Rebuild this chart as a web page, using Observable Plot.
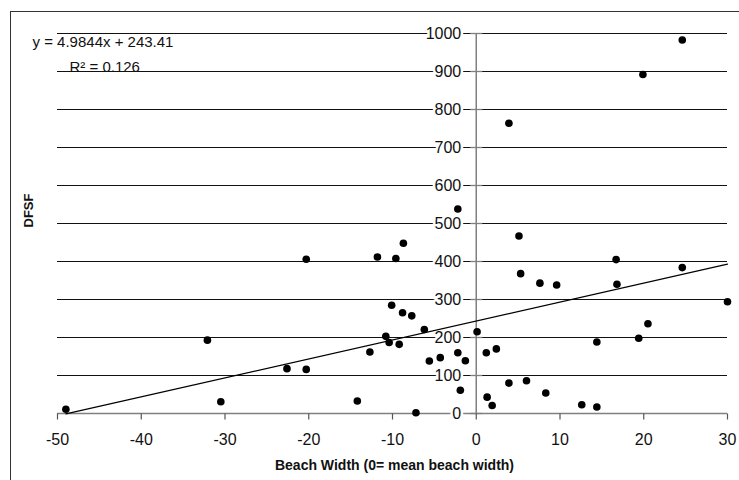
<!DOCTYPE html>
<html>
<head>
<meta charset="utf-8">
<script src="https://cdn.jsdelivr.net/npm/d3@7"></script>
<script src="https://cdn.jsdelivr.net/npm/@observablehq/plot@0.6"></script>
<style>
  html, body { margin: 0; padding: 0; background: #fff; overflow: hidden; }
  #wrap { position: relative; width: 739px; height: 480px; overflow: hidden; }
  #border { position: absolute; left: 10px; top: 11px; width: 800px; height: 600px; border: 1.6px solid #333; box-sizing: border-box; pointer-events: none; }
</style>
</head>
<body>
<div id="wrap"><div id="chart"></div><div id="border"></div></div>
<script>
const beachWidth = [-49.0, -32.1, -30.5, -22.6, -20.3, -20.3, -14.2, -12.7, -11.8, -10.8,
  -10.4, -10.1, -9.6, -9.2, -8.8, -8.7, -7.7, -7.2, -6.2, -5.6,
  -4.3, -2.2, -2.2, -1.9, -1.3, 0.1, 1.2, 1.3, 1.9, 2.4,
  3.9, 3.9, 5.1, 5.3, 6.0, 7.6, 8.3, 9.6, 12.6, 14.4,
  14.4, 16.7, 16.8, 19.4, 19.9, 20.5, 24.6, 24.6, 30.0];
const dfsf = [11, 193, 31, 118, 116, 406, 33, 162, 412, 203,
  187, 285, 408, 182, 265, 448, 257, 2, 221, 138,
  147, 538, 160, 61, 139, 215, 160, 43, 21, 170,
  80, 764, 467, 368, 86, 343, 54, 338, 23, 188,
  17, 405, 340, 198, 892, 236, 384, 983, 294];
const slope = 4.9844;
const intercept = 243.41;
const equationText = "y = 4.9844x + 243.41";
const r2Text = "R\u00B2 = 0.126";
const xTicks = [-50, -40, -30, -20, -10, 0, 10, 20, 30];
const yTicks = [0, 100, 200, 300, 400, 500, 600, 700, 800, 900, 1000];
const xTitle = "Beach Width (0= mean beach width)";
const yTitle = "DFSF";

const points = beachWidth.map((x, i) => ({x, y: dfsf[i]}));
const xExt = d3.extent(beachWidth);
const trend = xExt.map(x => ({x, y: slope * x + intercept}));

const font = "'Liberation Sans', Arial, sans-serif";
const axisGray = "#808080";

// custom tick-mark symbols
const tickDown = {draw(ctx) { ctx.moveTo(0, 0); ctx.lineTo(0, 6); }};
const tickCross = {draw(ctx) { ctx.moveTo(-6, 0); ctx.lineTo(6, 0); }};

const chart = Plot.plot({
  width: 739,
  height: 480,
  marginLeft: 57,
  marginRight: 12,
  marginTop: 33,
  marginBottom: 67,
  style: {fontFamily: font, background: "white", overflow: "visible"},
  x: {domain: [-50, 30], axis: null},
  y: {domain: [0, 1000], axis: null},
  marks: [
    Plot.ruleY(yTicks.filter(d => d > 0), {stroke: "#111", strokeWidth: 1}),
    Plot.ruleY([0], {stroke: axisGray, strokeWidth: 1.5}),
    Plot.ruleX([0], {stroke: axisGray, strokeWidth: 1.5}),
    Plot.dot(yTicks, {x: 0, y: d => d, symbol: tickCross, fill: "none", stroke: axisGray, strokeWidth: 1.3}),
    Plot.dot(xTicks, {x: d => d, y: 0, symbol: tickDown, fill: "none", stroke: "#555", strokeWidth: 1.2}),
    Plot.text(yTicks, {x: 0, y: d => d, text: d => String(d), textAnchor: "end", dx: -15, fontSize: 16, fill: "#111", stroke: "white", strokeWidth: 5}),
    Plot.text(xTicks, {x: d => d, y: 0, text: d => String(d), dy: 26, fontSize: 16, fill: "#111"}),
    Plot.line(trend, {x: "x", y: "y", stroke: "#000", strokeWidth: 1.2}),
    Plot.dot(points, {x: "x", y: "y", r: 3.8, fill: "#000", stroke: "none"}),
    Plot.text([equationText], {frameAnchor: "top-left", lineAnchor: "middle", text: d => d, textAnchor: "start", dx: -25, dy: 9, fontSize: 15, fill: "#111"}),
    Plot.text([r2Text], {frameAnchor: "top-left", lineAnchor: "middle", text: d => d, textAnchor: "start", dx: 12, dy: 33.5, fontSize: 15, fill: "#111"}),
    Plot.text([xTitle], {frameAnchor: "bottom", lineAnchor: "middle", text: d => d, dx: 2, dy: 52, fontSize: 14, fontWeight: "bold", fill: "#111"}),
    Plot.text([yTitle], {frameAnchor: "left", lineAnchor: "middle", text: d => d, rotate: -90, dx: -29, dy: 4, fontSize: 13, fontWeight: "bold", fill: "#111"})
  ]
});
document.getElementById("chart").appendChild(chart);
</script>
</body>
</html>
